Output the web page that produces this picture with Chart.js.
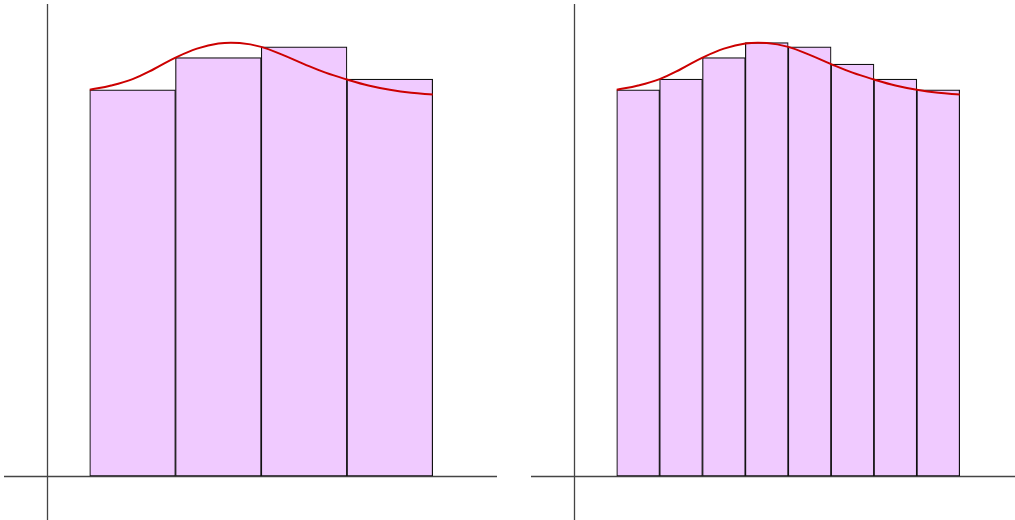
<!DOCTYPE html>
<html>
<head>
<meta charset="utf-8">
<script src="https://cdn.jsdelivr.net/npm/chart.js@4/dist/chart.umd.min.js"></script>
<style>
  html, body { margin: 0; padding: 0; background: #fff; overflow: hidden; }
  body { width: 1015px; height: 520px; position: relative; }
  canvas { position: absolute; top: 0; }
  #left { left: 0; }
  #right { left: 527px; }
</style>
</head>
<body>
<canvas id="left" width="520" height="520"></canvas>
<canvas id="right" width="520" height="520"></canvas>
<script>
// curve f(x)
const curveX = [0, 0.25, 0.5, 0.75, 1, 1.25, 1.5, 1.75, 2, 2.25, 2.5, 2.75, 3, 3.25, 3.5, 3.75, 4];
const curveY = [1.800, 1.820, 1.850, 1.897, 1.950, 1.992, 2.016, 2.018, 2.000, 1.963, 1.920, 1.880, 1.848, 1.820, 1.800, 1.786, 1.778];

// left-endpoint rectangles, 4 and 8 subintervals (bar centres + heights)
const leftBarX = [0.5, 1.5, 2.5, 3.5];
const leftBarY = [1.80, 1.95, 2.00, 1.85];
const rightBarX = [0.25, 0.75, 1.25, 1.75, 2.25, 2.75, 3.25, 3.75];
const rightBarY = [1.80, 1.85, 1.95, 2.02, 2.00, 1.92, 1.85, 1.80];

// where the two axes cross
const axisX = -0.5;
const axisY = 0;

function pts(xs, ys) {
  return xs.map((x, i) => ({ x: x, y: ys[i] }));
}

// draw the coordinate axes through the scales
const axesPlugin = {
  id: "axes",
  beforeDatasetsDraw(chart) {
    const { ctx, chartArea, scales } = chart;
    const px = Math.round(scales.x.getPixelForValue(axisX)) + 0.5;
    const py = Math.round(scales.y.getPixelForValue(axisY)) + 0.5;
    ctx.save();
    ctx.strokeStyle = "#444";
    ctx.lineWidth = 1.3;
    ctx.beginPath();
    ctx.moveTo(chartArea.left, py);
    ctx.lineTo(chartArea.right, py);
    ctx.moveTo(px, chartArea.top);
    ctx.lineTo(px, chartArea.bottom);
    ctx.stroke();
    ctx.restore();
  },
};

function drawPanel(id, barX, barY) {
  const ctx = document.getElementById(id).getContext("2d");
  new Chart(ctx, {
    type: "bar",
    data: {
      datasets: [
        {
          type: "line",
          data: pts(curveX, curveY),
          borderColor: "#cc0000",
          borderWidth: 2,
          pointRadius: 0,
          tension: 0.4,
          fill: false,
          order: 0,
        },
        {
          type: "bar",
          data: pts(barX, barY),
          backgroundColor: "rgb(240, 202, 255)",
          borderColor: "#111",
          borderWidth: 1.2,
          borderSkipped: false,
          barPercentage: 1,
          categoryPercentage: 1,
          order: 1,
        },
      ],
    },
    options: {
      responsive: false,
      animation: false,
      layout: { padding: { left: 4, right: 23, top: 4, bottom: 0 } },
      plugins: { legend: { display: false }, tooltip: { enabled: false } },
      scales: {
        x: {
          type: "linear",
          min: -1,
          max: 4.75,
          offset: false,
          display: false,
          // no ticks, so bar width comes from the bar spacing only
          afterBuildTicks: (scale) => { scale.ticks = []; },
        },
        y: {
          type: "linear",
          min: -0.205,
          max: 2.2,
          display: false,
        },
      },
    },
    plugins: [axesPlugin],
  });
}

drawPanel("left", leftBarX, leftBarY);
drawPanel("right", rightBarX, rightBarY);
</script>
</body>
</html>
